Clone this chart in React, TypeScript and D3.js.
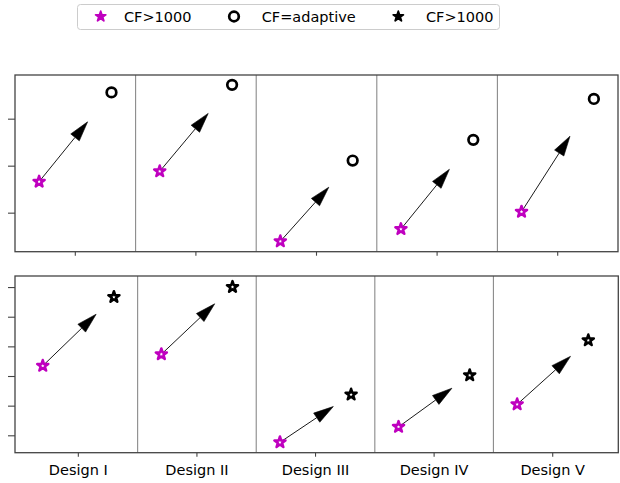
import React from "react";
import * as d3 from "d3";

const designs = ["Design I", "Design II", "Design III", "Design IV", "Design V"];
const topStart = [1.67, 1.89, 0.40, 0.66, 1.03];
const topEnd = [3.57, 3.73, 2.12, 2.56, 3.43];
const botStart = [2.36, 2.75, -0.22, 0.30, 1.06];
const botEnd = [4.68, 5.02, 1.39, 2.04, 3.22];
const topYTicks = [1, 2, 3];
const botYTicks = [0, 1, 2, 3, 4, 5];
const dividers = [1.5, 2.5, 3.5, 4.5];
const legendLabels = ["CF>1000", "CF=adaptive", "CF>1000"];

const MAG = "#bf00bf";
const starPath = d3.symbol(d3.symbolStar, 38)() as string;
const starSmall = d3.symbol(d3.symbolStar, 32)() as string;

function Arrow({ x0, y0, x1, y1 }: { x0: number; y0: number; x1: number; y1: number }) {
  const dx = x1 - x0, dy = y1 - y0;
  const L = Math.hypot(dx, dy);
  const ux = dx / L, uy = dy / L;
  const hl = 20, hw = 5.5;
  const bx = x1 - ux * hl, by = y1 - uy * hl;
  const px = -uy, py = ux;
  const pts = [[x1, y1], [bx + px * hw, by + py * hw], [bx - px * hw, by - py * hw]];
  return (
    <g>
      <line x1={x0} y1={y0} x2={bx} y2={by} stroke="#000" strokeWidth={0.9} />
      <polygon points={pts.map((p) => p.join(",")).join(" ")} fill="#000" stroke="#000" strokeWidth={0.6} />
    </g>
  );
}

function Panel({
  x, y, yTicks, start, end, frac, endMarker, showLabels,
}: {
  x: d3.ScaleLinear<number, number>;
  y: d3.ScaleLinear<number, number>;
  yTicks: number[];
  start: number[];
  end: number[];
  frac: number;
  endMarker: "circle" | "star";
  showLabels: boolean;
}) {
  const [x0, x1] = x.range();
  const [yb, yt] = y.range();
  return (
    <g>
      {dividers.map((d) => (
        <line key={d} x1={x(d)} x2={x(d)} y1={yt} y2={yb} stroke="#8a8a8a" strokeWidth={1.1} />
      ))}
      {yTicks.map((t) => (
        <line key={t} x1={x0 - 7} x2={x0} y1={y(t)} y2={y(t)} stroke="#444" strokeWidth={1.1} />
      ))}
      {designs.map((d, i) => (
        <g key={d}>
          <line x1={x(i + 1)} x2={x(i + 1)} y1={yb} y2={yb + 4} stroke="#444" strokeWidth={1.1} />
          {showLabels && (
            <text x={x(i + 1)} y={yb + 22} textAnchor="middle" fontSize={14.5} fontFamily="DejaVu Sans" fill="#000">
              {d}
            </text>
          )}
        </g>
      ))}
      {designs.map((d, i) => {
        const sx = x(i + 1 - 0.3), sy = y(start[i]);
        const ex = x(i + 1 + 0.3), ey = y(end[i]);
        return (
          <g key={d + "m"}>
            <Arrow x0={sx} y0={sy} x1={sx + frac * (ex - sx)} y1={sy + frac * (ey - sy)} />
            <path d={starPath} transform={`translate(${sx},${sy})`} fill="#fff" stroke={MAG} strokeWidth={2.5} strokeLinejoin="round" />
            {endMarker === "circle" ? (
              <circle cx={ex} cy={ey} r={4.8} fill="none" stroke="#000" strokeWidth={2.7} />
            ) : (
              <path d={starPath} transform={`translate(${ex},${ey})`} fill="#fff" stroke="#000" strokeWidth={2.5} strokeLinejoin="round" />
            )}
          </g>
        );
      })}
      <rect x={x0} y={yt} width={x1 - x0} height={yb - yt} fill="none" stroke="#444" strokeWidth={1.3} />
    </g>
  );
}

export default function App() {
  const xTop = d3.scaleLinear().domain([0.5, 5.5]).range([15, 618]);
  const yTop = d3.scaleLinear().domain([0.18, 3.94]).range([251.7, 75]);
  const xBot = d3.scaleLinear().domain([0.466, 5.553]).range([15, 618.3]);
  const yBot = d3.scaleLinear().domain([-0.57, 5.39]).range([452.7, 276]);

  const legendItems = [
    { mx: 100.7, tx: 124, kind: "mstar" },
    { mx: 234, tx: 261.7, kind: "circle" },
    { mx: 398.3, tx: 426, kind: "kstar" },
  ];

  return (
    <svg width={620} height={483} style={{ position: "absolute", left: 0, top: 0, background: "#fff" }}>
      <rect x={0} y={0} width={620} height={483} fill="#fff" />
      <Panel x={xTop} y={yTop} yTicks={topYTicks} start={topStart} end={topEnd} frac={0.67} endMarker="circle" showLabels={false} />
      <Panel x={xBot} y={yBot} yTicks={botYTicks} start={botStart} end={botEnd} frac={0.75} endMarker="star" showLabels={true} />
      <g>
        <rect x={77.5} y={4.5} width={422} height={25} rx={3} fill="#fff" stroke="#cccccc" strokeWidth={1} />
        {legendItems.map((it, i) => (
          <g key={i}>
            {it.kind === "circle" ? (
              <circle cx={it.mx} cy={16.5} r={4.8} fill="none" stroke="#000" strokeWidth={2.7} />
            ) : (
              <path d={starSmall} transform={`translate(${it.mx},${16.5})`} fill={it.kind === "mstar" ? MAG : "#000"} stroke={it.kind === "mstar" ? MAG : "#000"} strokeWidth={1.8} strokeLinejoin="round" />
            )}
            <text x={it.tx} y={22} fontSize={14.5} fontFamily="DejaVu Sans" fill="#000">
              {legendLabels[i]}
            </text>
          </g>
        ))}
      </g>
    </svg>
  );
}
